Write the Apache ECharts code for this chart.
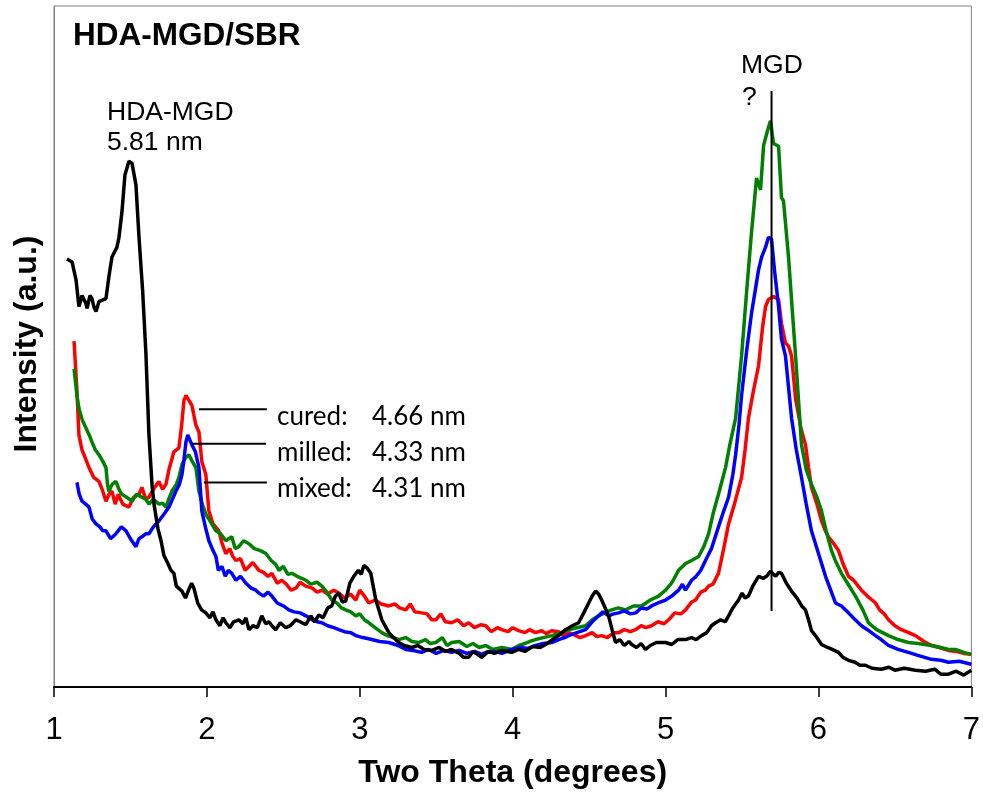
<!DOCTYPE html>
<html><head><meta charset="utf-8">
<script src="https://cdn.jsdelivr.net/npm/echarts@6/dist/echarts.min.js"></script>
<style>html,body{margin:0;padding:0;background:#fff}#c{width:983px;height:794px}</style>
</head><body><div id="c"></div>
<script>
// X axis: two theta (degrees); Y: intensity (a.u., arbitrary)
const xTicks = [1,2,3,4,5,6,7];

const hdaMgd = [[1.085,433],[1.118,430],[1.144,412],[1.163,385],[1.183,396],[1.196,398],[1.209,388],[1.216,383],[1.235,396],[1.248,393],[1.262,384],[1.275,380],[1.294,390],[1.307,388],[1.340,393],[1.359,415],[1.379,435],[1.412,445],[1.425,455],[1.444,480],[1.464,518],[1.490,532],[1.510,530],[1.523,532],[1.536,508],[1.556,455],[1.580,400],[1.601,338],[1.621,255],[1.641,205],[1.654,185],[1.680,160],[1.700,148],[1.719,133],[1.745,125],[1.765,118],[1.784,115],[1.800,102],[1.837,97],[1.860,90],[1.880,98],[1.900,105],[1.915,100],[1.940,85],[1.965,78],[1.993,75],[2.020,70],[2.040,76],[2.059,68],[2.085,62],[2.105,70],[2.124,65],[2.150,60],[2.175,66],[2.209,68],[2.235,64],[2.255,70],[2.275,58],[2.300,62],[2.330,60],[2.359,72],[2.385,64],[2.405,66],[2.425,62],[2.450,58],[2.480,65],[2.516,60],[2.545,62],[2.582,68],[2.610,66],[2.647,63],[2.680,72],[2.705,66],[2.732,73],[2.760,70],[2.790,80],[2.817,82],[2.840,92],[2.863,95],[2.885,86],[2.908,87],[2.935,105],[2.961,112],[2.990,118],[3.010,114],[3.026,123],[3.050,120],[3.072,115],[3.090,100],[3.105,88],[3.125,78],[3.144,68],[3.165,62],[3.190,55],[3.220,50],[3.255,45],[3.290,42],[3.340,40],[3.380,42],[3.420,38],[3.471,37],[3.520,40],[3.560,36],[3.600,38],[3.650,34],[3.680,30],[3.712,30],[3.740,36],[3.770,33],[3.797,30],[3.840,36],[3.880,34],[3.930,37],[3.993,35],[4.040,38],[4.080,36],[4.130,41],[4.180,40],[4.216,43],[4.260,48],[4.300,52],[4.346,58],[4.390,62],[4.431,65],[4.465,75],[4.497,85],[4.520,92],[4.542,97],[4.562,94],[4.582,88],[4.605,80],[4.627,72],[4.650,58],[4.673,45],[4.700,48],[4.730,42],[4.760,46],[4.778,43],[4.810,40],[4.840,44],[4.869,38],[4.900,42],[4.940,45],[5.000,45],[5.040,43],[5.080,48],[5.131,48],[5.170,50],[5.200,48],[5.235,52],[5.270,55],[5.300,62],[5.327,65],[5.360,68],[5.390,66],[5.412,72],[5.440,80],[5.477,88],[5.500,95],[5.520,90],[5.542,92],[5.570,102],[5.608,112],[5.640,110],[5.660,112],[5.686,117],[5.720,112],[5.740,116],[5.758,115],[5.790,105],[5.824,97],[5.860,90],[5.890,82],[5.915,78],[5.935,68],[5.954,57],[5.980,52],[6.020,43],[6.060,40],[6.090,38],[6.131,35],[6.160,30],[6.196,27],[6.240,25],[6.270,22],[6.307,22],[6.350,19],[6.412,18],[6.460,20],[6.500,17],[6.560,19],[6.634,17],[6.700,16],[6.760,18],[6.800,13],[6.850,13],[6.900,16],[6.950,12],[7.000,17]];

const cured = [[1.131,350],[1.150,300],[1.163,255],[1.183,240],[1.196,235],[1.229,222],[1.260,212],[1.294,208],[1.315,200],[1.340,188],[1.360,195],[1.379,198],[1.400,185],[1.420,195],[1.450,185],[1.490,182],[1.520,192],[1.556,195],[1.575,202],[1.600,190],[1.621,192],[1.650,200],[1.686,208],[1.710,200],[1.732,205],[1.752,220],[1.784,238],[1.817,242],[1.835,265],[1.850,290],[1.863,295],[1.876,293],[1.902,285],[1.928,265],[1.948,258],[1.967,228],[1.993,215],[2.013,178],[2.040,165],[2.078,158],[2.100,145],[2.124,135],[2.150,140],[2.170,132],[2.190,128],[2.220,130],[2.250,118],[2.275,122],[2.300,126],[2.340,118],[2.370,116],[2.400,112],[2.425,115],[2.460,105],[2.490,108],[2.520,104],[2.550,98],[2.582,100],[2.610,106],[2.647,102],[2.690,100],[2.720,96],[2.752,98],[2.790,94],[2.830,98],[2.863,95],[2.900,90],[2.940,94],[2.974,88],[3.000,98],[3.030,92],[3.059,85],[3.100,88],[3.140,84],[3.190,82],[3.230,84],[3.260,80],[3.301,78],[3.330,84],[3.360,76],[3.405,75],[3.440,74],[3.471,68],[3.497,68],[3.530,74],[3.560,66],[3.601,65],[3.640,68],[3.680,62],[3.712,65],[3.750,60],[3.790,63],[3.824,62],[3.860,56],[3.900,60],[3.928,58],[3.970,56],[4.000,60],[4.039,57],[4.080,55],[4.110,58],[4.150,55],[4.190,57],[4.220,54],[4.255,57],[4.300,56],[4.330,52],[4.366,55],[4.400,53],[4.440,50],[4.477,52],[4.520,55],[4.550,51],[4.582,52],[4.620,50],[4.660,55],[4.693,55],[4.730,58],[4.770,56],[4.804,58],[4.840,62],[4.870,60],[4.908,62],[4.950,66],[4.990,64],[5.020,68],[5.060,75],[5.100,74],[5.131,78],[5.170,86],[5.196,88],[5.230,96],[5.260,98],[5.281,102],[5.310,104],[5.346,115],[5.380,140],[5.412,165],[5.450,185],[5.497,212],[5.520,240],[5.542,272],[5.575,300],[5.608,325],[5.635,365],[5.654,385],[5.673,392],[5.706,395],[5.739,392],[5.758,368],[5.784,348],[5.804,345],[5.824,335],[5.850,292],[5.885,262],[5.915,245],[5.935,222],[5.954,202],[5.990,185],[6.020,168],[6.045,158],[6.065,152],[6.100,145],[6.131,138],[6.160,125],[6.196,112],[6.230,108],[6.260,102],[6.281,98],[6.320,92],[6.350,88],[6.373,85],[6.400,78],[6.430,74],[6.458,68],[6.500,62],[6.542,58],[6.590,55],[6.634,52],[6.690,46],[6.739,42],[6.790,40],[6.850,37],[6.900,36],[6.950,34],[7.000,33]];

const milled = [[1.150,207],[1.165,195],[1.183,188],[1.200,186],[1.229,182],[1.250,170],[1.275,165],[1.300,162],[1.320,158],[1.340,158],[1.370,150],[1.405,155],[1.440,162],[1.471,158],[1.500,150],[1.536,142],[1.555,150],[1.575,152],[1.600,155],[1.621,155],[1.650,162],[1.686,168],[1.720,175],[1.752,182],[1.797,198],[1.820,205],[1.837,215],[1.850,230],[1.863,248],[1.875,255],[1.882,255],[1.902,245],[1.925,238],[1.948,222],[1.967,178],[1.990,162],[2.013,148],[2.040,138],[2.059,132],[2.075,118],[2.098,122],[2.120,112],[2.140,118],[2.163,115],[2.190,108],[2.220,112],[2.255,105],[2.290,100],[2.320,98],[2.340,95],[2.370,92],[2.400,96],[2.425,92],[2.460,85],[2.500,82],[2.536,78],[2.570,76],[2.610,75],[2.647,72],[2.690,68],[2.720,66],[2.752,65],[2.790,62],[2.830,60],[2.863,58],[2.900,56],[2.940,55],[2.974,52],[3.020,50],[3.050,49],[3.078,48],[3.130,46],[3.190,45],[3.250,42],[3.301,38],[3.350,37],[3.405,35],[3.450,38],[3.500,34],[3.550,37],[3.601,35],[3.650,37],[3.700,34],[3.750,36],[3.800,33],[3.824,35],[3.880,36],[3.930,34],[3.993,38],[4.050,40],[4.100,39],[4.150,42],[4.200,44],[4.255,45],[4.300,48],[4.340,50],[4.366,52],[4.420,55],[4.477,58],[4.520,66],[4.562,72],[4.590,76],[4.627,72],[4.660,74],[4.693,75],[4.730,77],[4.770,74],[4.804,75],[4.840,80],[4.880,79],[4.908,82],[4.950,85],[5.000,88],[5.040,92],[5.085,98],[5.110,104],[5.130,98],[5.170,108],[5.200,112],[5.230,118],[5.261,128],[5.300,140],[5.346,162],[5.380,178],[5.412,192],[5.440,215],[5.458,235],[5.480,265],[5.497,295],[5.530,340],[5.562,378],[5.585,400],[5.608,422],[5.628,435],[5.654,445],[5.673,455],[5.693,453],[5.712,422],[5.739,385],[5.758,352],[5.784,335],[5.824,272],[5.855,240],[5.889,212],[5.920,185],[5.954,158],[6.000,135],[6.046,112],[6.080,98],[6.111,85],[6.150,82],[6.196,75],[6.240,68],[6.281,62],[6.320,58],[6.373,52],[6.410,48],[6.458,42],[6.520,38],[6.588,35],[6.650,32],[6.739,28],[6.800,27],[6.850,25],[6.920,26],[7.000,23]];

const mixed = [[1.131,322],[1.150,295],[1.163,282],[1.185,270],[1.209,262],[1.230,255],[1.248,248],[1.270,240],[1.294,235],[1.320,228],[1.340,222],[1.350,205],[1.359,198],[1.380,205],[1.405,208],[1.425,200],[1.444,195],[1.475,192],[1.510,188],[1.540,195],[1.575,192],[1.600,190],[1.621,185],[1.650,190],[1.686,185],[1.710,186],[1.732,182],[1.750,190],[1.771,198],[1.800,205],[1.817,212],[1.837,225],[1.860,232],[1.882,235],[1.905,228],[1.928,222],[1.948,198],[1.970,185],[1.993,175],[2.020,168],[2.059,158],[2.090,155],[2.124,148],[2.163,152],[2.185,140],[2.209,142],[2.240,148],[2.275,145],[2.310,140],[2.350,138],[2.386,135],[2.420,128],[2.450,124],[2.471,118],[2.500,122],[2.530,114],[2.556,115],[2.590,112],[2.620,110],[2.647,108],[2.680,104],[2.720,106],[2.752,102],[2.785,96],[2.817,88],[2.850,85],[2.880,80],[2.908,78],[2.940,76],[2.974,72],[3.000,74],[3.030,68],[3.059,65],[3.100,60],[3.144,55],[3.180,52],[3.220,50],[3.255,48],[3.300,50],[3.340,46],[3.386,45],[3.430,48],[3.460,44],[3.497,45],[3.540,50],[3.570,42],[3.601,45],[3.650,46],[3.700,41],[3.740,44],[3.780,40],[3.824,42],[3.870,38],[3.930,40],[3.993,38],[4.040,42],[4.080,44],[4.110,46],[4.150,48],[4.200,50],[4.255,52],[4.300,54],[4.366,58],[4.420,60],[4.477,62],[4.520,68],[4.562,72],[4.600,75],[4.647,78],[4.690,80],[4.739,78],[4.790,82],[4.843,82],[4.900,88],[4.954,92],[5.000,98],[5.039,105],[5.085,118],[5.131,125],[5.170,128],[5.216,132],[5.250,142],[5.281,155],[5.310,175],[5.346,195],[5.392,222],[5.420,245],[5.458,272],[5.497,335],[5.530,400],[5.562,460],[5.595,515],[5.621,503],[5.641,548],[5.665,562],[5.686,573],[5.706,550],[5.739,547],[5.758,495],[5.771,492],[5.804,435],[5.850,335],[5.889,245],[5.920,220],[5.954,205],[5.990,192],[6.020,178],[6.050,158],[6.085,138],[6.110,128],[6.150,115],[6.190,105],[6.242,92],[6.290,78],[6.327,65],[6.380,58],[6.420,55],[6.458,52],[6.520,48],[6.588,45],[6.650,44],[6.739,42],[6.800,40],[6.850,38],[6.895,38],[6.950,35],[7.000,33]];

// annotation lines in data coordinates
const mgdLine = [[5.693,77],[5.693,603]];
const curedLeader = [[1.948,281],[2.392,281]];
const milledLeader = [[1.902,246],[2.386,246]];
const mixedLeader = [[1.980,207],[2.392,207]];

const chart = echarts.init(document.getElementById('c'), null, {renderer:'canvas'});
const lineSeries = (name, data, color) => ({
  name, type:'line', data, showSymbol:false, symbol:'none', smooth:false,
  lineStyle:{color, width:3.5}, itemStyle:{color}, z:2, animation:false
});
const leader = (pts, w) => ({
  type:'line', data:pts, showSymbol:false, symbol:'none',
  lineStyle:{color:'#000', width:w}, z:3, animation:false
});
const font = 'Liberation Sans, Arial, sans-serif';
const txt = (text, x, y, size, weight, family) => ({
  type:'text', x, y, style:{text, fill:'#000', font:(weight||'normal')+' '+size+'px '+(family||font), verticalAlign:'middle', align:'left'}, z:10
});

chart.setOption({
  animation:false,
  grid:{left:54, right:10, top:6, bottom:99, show:true, borderColor:'#7f7f7f', borderWidth:1, backgroundColor:'transparent'},
  xAxis:{
    type:'value', min:1, max:7, interval:1,
    name:'Two Theta (degrees)', nameLocation:'middle', nameGap:70,
    nameTextStyle:{fontFamily:font, fontWeight:'bold', fontSize:32, color:'#000'},
    axisLine:{show:true, onZero:false, lineStyle:{color:'#000', width:2}},
    axisTick:{show:true, inside:false, length:10, lineStyle:{color:'#000', width:1.5}},
    axisLabel:{fontFamily:font, fontSize:31, color:'#000', margin:28},
    splitLine:{show:false}
  },
  yAxis:{
    type:'value', min:0, max:689,
    axisLine:{show:true, lineStyle:{color:'#7f7f7f', width:1}},
    axisTick:{show:false}, axisLabel:{show:false}, splitLine:{show:false}
  },
  series:[
    lineSeries('cured', cured, '#ff0000'),
    lineSeries('mixed', mixed, '#008000'),
    lineSeries('milled', milled, '#0000ff'),
    lineSeries('HDA-MGD', hdaMgd, '#000000'),
    leader(mgdLine, 2),
    leader(curedLeader, 2),
    leader(milledLeader, 2),
    leader(mixedLeader, 2)
  ],
  graphic:[
    txt('HDA-MGD/SBR', 73, 36, 31.5, 'bold'),
    txt('HDA-MGD', 107, 113, 26.5),
    txt('5.81 nm', 107, 143, 26.5),
    txt('MGD', 741, 66, 26.5),
    txt('?', 742, 98, 26.5),
    txt('cured:', 277, 417, 26, 'normal', 'Lato, sans-serif'),
    txt('4.66 nm', 372, 417, 26, 'normal', 'Lato, sans-serif'),
    txt('milled:', 277, 453, 26, 'normal', 'Lato, sans-serif'),
    txt('4.33 nm', 372, 453, 26, 'normal', 'Lato, sans-serif'),
    txt('mixed:', 277, 489, 26, 'normal', 'Lato, sans-serif'),
    txt('4.31 nm', 372, 489, 26, 'normal', 'Lato, sans-serif'),
    {type:'text', x:27, y:344, rotation:Math.PI/2,
     style:{text:'Intensity (a.u.)', fill:'#000', font:'bold 32px '+font, align:'center', verticalAlign:'middle'}, z:10}
  ]
});
</script></body></html>
